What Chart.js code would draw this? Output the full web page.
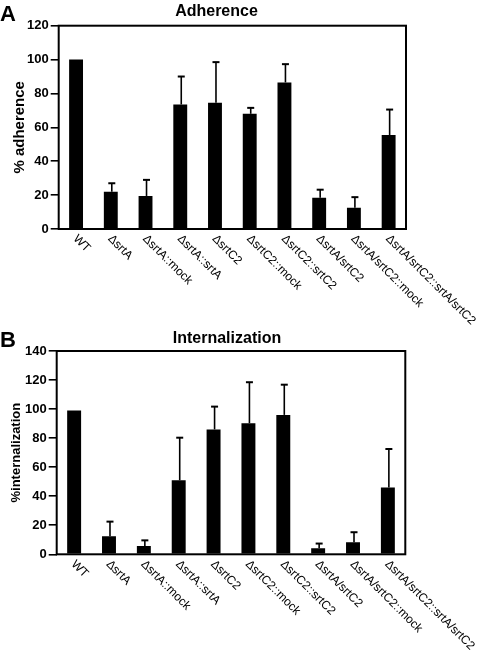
<!DOCTYPE html>
<html>
<head>
<meta charset="utf-8">
<script src="https://cdn.jsdelivr.net/npm/chart.js@4.4.1/dist/chart.umd.min.js"></script>
<style>
  html, body { margin: 0; padding: 0; background: #fff; }
  body { width: 482px; height: 654px; position: relative; overflow: hidden; font-family: "Liberation Sans", Arial, sans-serif; }
  .panel { position: absolute; left: 0; width: 482px; height: 327px; }
  .panel canvas { position: absolute; left: 0; top: 0; }
  .letter { position: absolute; font-weight: bold; font-size: 22px; line-height: 1; color: #000; }
  .title { position: absolute; left: 0; width: 433px; text-align: center; font-weight: bold; font-size: 16px; line-height: 1; color: #000; }
</style>
</head>
<body>
<div class="panel" style="top:0">
  <canvas id="c1" width="482" height="327"></canvas>
  <div class="letter" style="left:0px; top:3px">A</div>
  <div class="title" style="top:3px">Adherence</div>
</div>
<div class="panel" style="top:327px">
  <canvas id="c2" width="482" height="327"></canvas>
  <div class="letter" style="left:0px; top:2px">B</div>
  <div class="title" style="top:3px; width:454px">Internalization</div>
</div>
<script>
const categories = ['WT', '\u0394srtA', '\u0394srtA::mock', '\u0394srtA::srtA', '\u0394srtC2', '\u0394srtC2::mock', '\u0394srtC2::srtC2', '\u0394srtA/srtC2', '\u0394srtA/srtC2::mock', '\u0394srtA/srtC2::srtA/srtC2'];
const adherence = [100, 22, 19.5, 73.5, 74.5, 68, 86.5, 18.5, 12.5, 55.5];
const adherenceErr = [0, 5, 9.5, 16.5, 24, 3.5, 10.8, 4.7, 6.3, 15];
const internalization = [99, 12.5, 5.8, 51, 86, 90.3, 96, 4.2, 8.3, 46];
const internalizationErr = [0, 10, 3.8, 29.3, 15.7, 28.2, 20.8, 3.2, 6.9, 26.5];
const adherenceTicks = { min: 0, max: 120, step: 20 };
const internalizationTicks = { min: 0, max: 140, step: 20 };

const FONT = '"Liberation Sans", Arial, sans-serif';

const errorBarPlugin = {
  id: 'errorBars',
  afterDatasetsDraw(chart, args, opts) {
    const ctx = chart.ctx;
    const y = chart.scales.y;
    const meta = chart.getDatasetMeta(0);
    const vals = chart.data.datasets[0].data;
    const errs = opts.errors || [];
    ctx.save();
    ctx.strokeStyle = '#000';
    meta.data.forEach((bar, i) => {
      const e = errs[i];
      if (!e) return;
      const top = y.getPixelForValue(vals[i] + e);
      const cx = bar.x + 1;
      ctx.lineWidth = 1.6;
      ctx.beginPath();
      ctx.moveTo(cx, bar.y);
      ctx.lineTo(cx, top);
      ctx.stroke();
      ctx.lineWidth = 2;
      ctx.beginPath();
      ctx.moveTo(cx - 3.5, top);
      ctx.lineTo(cx + 3.5, top);
      ctx.stroke();
    });
    ctx.restore();
  }
};

const framePlugin = {
  id: 'frame',
  afterDatasetsDraw(chart) {
    const a = chart.chartArea;
    const ctx = chart.ctx;
    ctx.save();
    ctx.strokeStyle = '#000';
    ctx.lineWidth = 2;
    ctx.strokeRect(a.left, a.top, a.right - a.left, a.bottom - a.top);
    ctx.restore();
  }
};

const xLabelPlugin = {
  id: 'xLabels',
  afterDraw(chart) {
    const ctx = chart.ctx;
    const xs = chart.scales.x;
    const bottom = chart.chartArea.bottom;
    ctx.save();
    ctx.fillStyle = '#000';
    ctx.font = '12px ' + FONT;
    ctx.textAlign = 'left';
    ctx.textBaseline = 'middle';
    chart.data.labels.forEach((lab, i) => {
      const x = xs.getPixelForValue(i);
      ctx.save();
      ctx.translate(x - 1, bottom + 8);
      ctx.rotate(Math.PI / 4);
      ctx.fillText(lab, 0, 0);
      ctx.restore();
    });
    ctx.restore();
  }
};

function makeChart(id, values, errors, ticks, yTitle, area, titleSize, titlePad) {
  return new Chart(document.getElementById(id), {
    type: 'bar',
    data: {
      labels: categories,
      datasets: [{ data: values, backgroundColor: '#000', borderWidth: 0, categoryPercentage: 1.0, barPercentage: 0.4 }]
    },
    options: {
      responsive: false,
      animation: false,
      devicePixelRatio: 1,
      layout: { padding: { left: 0, right: 482 - area.right, top: area.top, bottom: 0 } },
      plugins: {
        legend: { display: false },
        tooltip: { enabled: false },
        title: { display: false },
        errorBars: { errors: errors }
      },
      scales: {
        x: {
          grid: { display: false },
          border: { display: false },
          ticks: { display: false },
          afterFit(scale) { scale.height = 327 - area.bottom; }
        },
        y: {
          min: ticks.min,
          max: ticks.max,
          border: { display: false },
          grid: { display: true, drawOnChartArea: false, drawTicks: true, tickLength: 8, color: '#000', lineWidth: 1.6 },
          ticks: { stepSize: ticks.step, color: '#000', padding: 2, font: { family: FONT, size: 13, weight: 'bold' } },
          title: { display: true, text: yTitle, color: '#000', padding: { top: titlePad, bottom: 4 }, font: { family: FONT, size: titleSize, weight: 'bold' } },
          afterFit(scale) { scale.width = area.left; }
        }
      }
    },
    plugins: [framePlugin, errorBarPlugin, xLabelPlugin]
  });
}

makeChart('c1', adherence, adherenceErr, adherenceTicks, '% adherence', { left: 58.7, right: 406, top: 25.7, bottom: 229 }, 15, 11);
makeChart('c2', internalization, internalizationErr, internalizationTicks, '%internalization', { left: 56.7, right: 405.3, top: 24, bottom: 227.3 }, 13, 8.5);
</script>
</body>
</html>
